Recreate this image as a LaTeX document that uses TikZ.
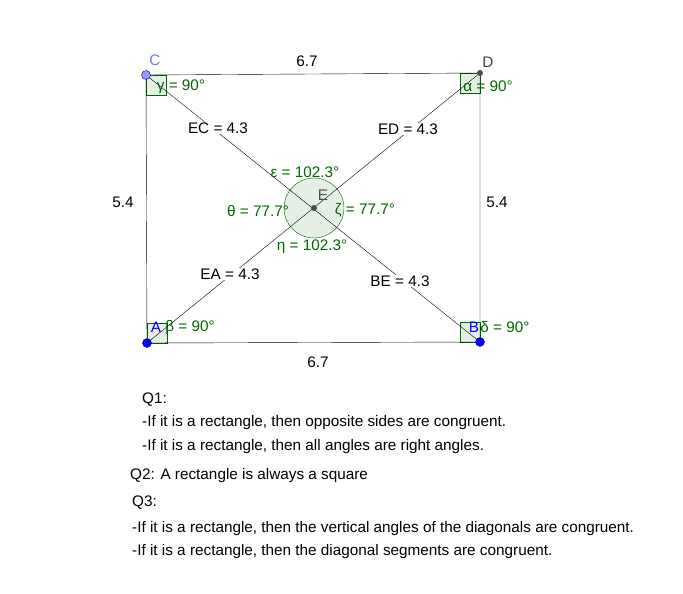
\documentclass[tikz,border=0pt]{standalone}
\usepackage{fontspec}
\setmainfont{Liberation Sans}
\begin{document}
\begin{tikzpicture}[x=1pt,y=-1pt,
  		lbl/.style={font=\fontsize{15.3}{17}\selectfont,inner sep=1pt},
  		seglbl/.style={lbl,fill=white},
  		anglbl/.style={lbl,text=green!40!black},
  		rightang/.style={draw=green!40!black,fill=green!40!black,fill opacity=.1},
  		qtext/.style={lbl,anchor=west}]
	\useasboundingbox (0,0) rectangle (683,594);
	% Corners
	\coordinate (A) at (147,343);
	\coordinate (B) at (480,342);
	\coordinate (C) at (146,75);
	\coordinate (D) at (480,73);
	\coordinate (E) at (314,208);
	% Angle marks
	\fill[green!40!black,opacity=.1] (E) circle (30);
	\draw[green!40!black] (E) circle (30);
	\draw[rightang] (A) rectangle ++(20,-20);
	\draw[rightang] (B) rectangle ++(-20,-20);
	\draw[rightang] (C) rectangle ++(20,20);
	\draw[rightang] (D) rectangle ++(-20,20);
	% Sides and diagonals
	\draw (A) -- (B) -- (D) -- (C) -- cycle;
	\draw (A) -- (D);
	\draw (C) -- (B);
	% Segment labels
	\node[seglbl] (ec) at (218,128) {EC = 4.3};
	\node[seglbl] (ed) at (408,129) {ED = 4.3};
	\node[seglbl] (ea) at (230,274) {EA = 4.3};
	\node[seglbl] (be) at (400,281) {BE = 4.3};
	\node[lbl] (top) at (307,61) {6.7};
	\node[lbl] (bot) at (318,362) {6.7};
	\node[lbl] (lft) at (123,202) {5.4};
	\node[lbl] (rgt) at (497,202) {5.4};
	% Angle labels
	\node[anglbl] (eps) at (305,172) {ε = 102.3°};
	\node[anglbl] (the) at (258,211) {θ = 77.7°};
	\node[anglbl] (zet) at (365,210) {ζ = 77.7°};
	\node[anglbl] (eta) at (312,247) {η = 102.3°};
	\node[anglbl] (gam) at (181,87) {γ = 90°};
	\node[anglbl] (alp) at (488,86) {α = 90°};
	\node[anglbl] (bet) at (190,328) {β = 90°};
	\node[anglbl] (del) at (505,327) {δ = 90°};
	% Points
	\fill[black!70] (E) circle (3);
	\fill[black!70] (D) circle (3);
	\filldraw[fill=blue!40!white,draw=blue!60!black] (C) circle (4.5);
	\filldraw[fill=blue,draw=blue!60!black] (A) circle (4.5);
	\filldraw[fill=blue,draw=blue!60!black] (B) circle (4.5);
	\node[lbl,text=blue!55!white] (cl) at (155,60) {C};
	\node[lbl,text=black!75] (dl) at (488,62) {D};
	\node[lbl,text=blue] (al) at (156,327) {A};
	\node[lbl,text=blue] (bl) at (474,327) {B};
	\node[lbl,text=black!70] (el) at (323,195) {E};
	% Questions
	\node[qtext] (q1) at (141,400) {Q1:};
	\node[qtext] (q1a) at (141,423) {-If it is a rectangle, then opposite sides are congruent.};
	\node[qtext] (q1b) at (141,447) {-If it is a rectangle, then all angles are right angles.};
	\node[qtext] (q2) at (129,476) {Q2: A rectangle is always a square};
	\node[qtext] (q3) at (131,503) {Q3:};
	\node[qtext] (q3a) at (131,529) {-If it is a rectangle, then the vertical angles of the diagonals are congruent.};
	\node[qtext] (q3b) at (131,552) {-If it is a rectangle, then the diagonal segments are congruent.};
\end{tikzpicture}
\end{document}
